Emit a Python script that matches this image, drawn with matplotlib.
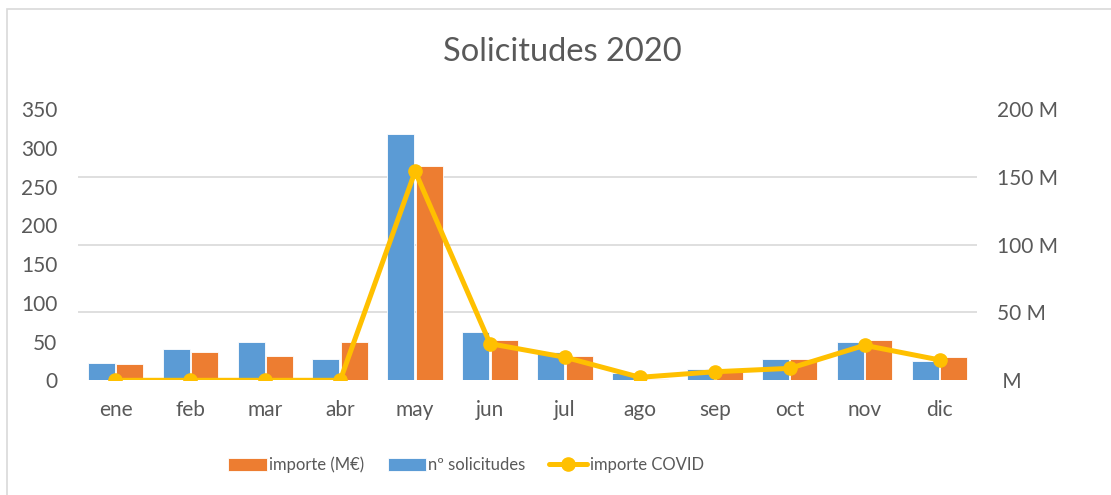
import numpy as np
import matplotlib
matplotlib.use("Agg")
import matplotlib.pyplot as plt
from matplotlib.patches import Rectangle
from matplotlib.ticker import FuncFormatter

# datos
meses = ['ene', 'feb', 'mar', 'abr', 'may', 'jun', 'jul', 'ago', 'sep', 'oct', 'nov', 'dic']
solicitudes = [22, 40, 49, 27, 318, 62, 36, 10, 15, 27, 49, 25]      # nº solicitudes
importe = [21, 36, 31, 49, 277, 52, 31, 2, 11, 28, 52, 30]           # importe (M€)
importe_covid = [0, 0, 0, 0, 154, 27, 17, 2.2, 6.3, 8.8, 25.8, 15]   # en millones

gris_texto = '#595959'
gris_linea = '#D9D9D9'
azul, naranja, amarillo = '#5B9BD5', '#ED7D31', '#FFC000'

plt.rcParams['font.family'] = ['Lato', 'DejaVu Sans']

fig = plt.figure(figsize=(11.11, 4.95), dpi=100)
ax = fig.add_axes([78 / 1111, 1 - 380.3 / 495, (977 - 78) / 1111, (380.3 - 109) / 495])
ax2 = ax.twinx()

x = np.arange(len(meses))
ancho = 0.36
b_imp = ax.bar(x + 0.19, importe, ancho, color=naranja, edgecolor='white', linewidth=0.6,
               label='importe (M€)', zorder=2)
b_sol = ax.bar(x - 0.19, solicitudes, ancho, color=azul, edgecolor='white', linewidth=0.6,
               label='nº solicitudes', zorder=2)
l_cov, = ax2.plot(x, importe_covid, color=amarillo, lw=3.6, marker='o', markersize=9.5,
                  label='importe COVID', solid_capstyle='round', zorder=3)

ax.set_xlim(-0.5, len(meses) - 0.5)
ax.set_ylim(0, 350)
ax2.set_ylim(0, 200)
ax.set_yticks(np.arange(0, 351, 50))
ax2.set_yticks(np.arange(0, 201, 50))
ax2.yaxis.set_major_formatter(FuncFormatter(lambda v, p: ' M' if v == 0 else f'{v:.0f} M'))

# rejilla en los valores del eje derecho, detras de las barras
ax.set_yticks(np.linspace(0, 350, 5), minor=True)
ax.grid(which='minor', axis='y', color=gris_linea, lw=1.2, zorder=0)
ax.set_axisbelow(True)

ax.set_xticks(x)
ax.set_xticklabels(meses)
for a in (ax, ax2):
    for s in a.spines.values():
        s.set_visible(False)
    a.tick_params(which='both', length=0, labelsize=15, labelcolor=gris_texto)
ax.tick_params(axis='y', pad=15)
ax.tick_params(axis='x', pad=14)
ax2.tick_params(axis='y', pad=14.5)

fig.text(562 / 1111, 1 - 52 / 495, 'Solicitudes 2020', ha='center', va='center',
         fontsize=23.5, color=gris_texto)

fig.legend([b_imp, b_sol, l_cov], ['importe (M€)', 'nº solicitudes', 'importe COVID'],
           loc='center', bbox_to_anchor=(466 / 1111, 1 - 465 / 495), ncol=3, frameon=False,
           fontsize=12, labelcolor=gris_texto, handlelength=2.3, handleheight=0.8,
           handletextpad=0.15, columnspacing=1.4)

fig.patches.append(Rectangle((7 / 1111, -0.1), 1.2, 1.1 - 9 / 495, transform=fig.transFigure,
                             fill=False, edgecolor=gris_linea, lw=1.2))

fig.savefig('out.png', dpi=100)
